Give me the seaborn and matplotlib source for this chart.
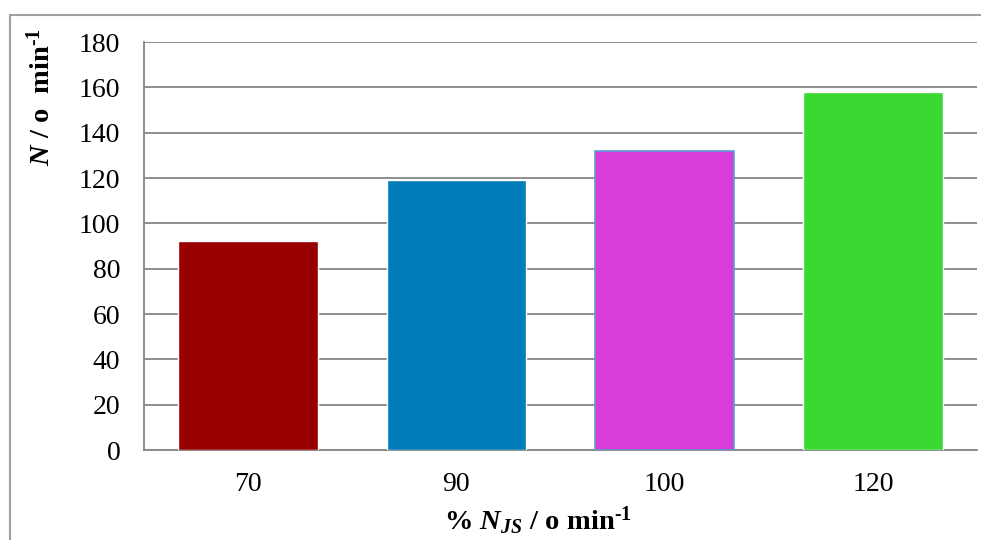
import numpy as np
import pandas as pd
import seaborn as sns
import matplotlib.pyplot as plt
from matplotlib.patches import Rectangle

# data
categories = ["70", "90", "100", "120"]
speeds = [92, 119, 132, 158]
bar_colors = ["#990000", "#007DB8", "#DA3CDA", "#3AD932"]

df = pd.DataFrame({"pct": categories, "N": speeds})

sns.set_style("white")
plt.rcParams["font.family"] = ["Liberation Serif", "DejaVu Serif"]
plt.rcParams["mathtext.fontset"] = "custom"
plt.rcParams["mathtext.rm"] = "Liberation Serif:bold"
plt.rcParams["mathtext.it"] = "Liberation Serif:italic:bold"
plt.rcParams["mathtext.bf"] = "Liberation Serif:bold"
plt.rcParams["text.color"] = "black"
plt.rcParams["axes.labelcolor"] = "black"
plt.rcParams["xtick.labelcolor"] = "black"
plt.rcParams["ytick.labelcolor"] = "black"

fig = plt.figure(figsize=(9.81, 5.40), dpi=100)
ax = fig.add_axes([144 / 981, 1 - 450 / 540, (977 - 144) / 981, (450 - 42) / 540])

sns.barplot(data=df, x="pct", y="N", hue="pct", palette=bar_colors,
            legend=False, width=0.67, saturation=1, ax=ax, zorder=3)
# magenta bar has a thin light-blue outline in the original
ax.patches[2].set_edgecolor("#5B9BD5")
ax.patches[2].set_linewidth(1.2)

grid_c = "#868686"
ax.set_ylim(0, 180)
ax.set_yticks(np.arange(0, 181, 20))
ax.set_xlim(-0.5, 3.5)
ax.yaxis.grid(True, color=grid_c, linewidth=1.3, zorder=0)
for s in ["top", "right"]:
    ax.spines[s].set_visible(False)
for s in ["left", "bottom"]:
    ax.spines[s].set_color(grid_c)
    ax.spines[s].set_linewidth(1.3)

ax.set_xticks(np.arange(-0.5, 3.6, 1), minor=True)
ax.tick_params(axis="x", which="major", length=0, pad=16, labelsize=20)
ax.tick_params(axis="x", which="minor", length=6, width=1.3, color=grid_c, direction="out")
ax.tick_params(axis="y", length=6, width=1.3, color=grid_c, direction="out", labelsize=20, pad=11)

hy = "\u2010"
ax.set_xlabel(r"$\mathrm{\%\ }N_{JS}\mathrm{\ /\ o\ min^{" + hy + "1}}$", fontsize=20.5)
ax.xaxis.set_label_coords(0.473, -0.135)
ax.set_ylabel(r"$N\mathrm{\ /\ o\ \ min^{" + hy + "1}}$", fontsize=20.5)
ax.yaxis.set_label_coords(-0.106, 0.865)

# outer chart-area border
fig.add_artist(Rectangle((10 / 981, -0.1), 1.0, 1 - 15 / 540 + 0.1,
                         transform=fig.transFigure, fill=False,
                         edgecolor="#A0A0A0", linewidth=1.5, clip_on=False))

fig.savefig("out.png", dpi=100)
